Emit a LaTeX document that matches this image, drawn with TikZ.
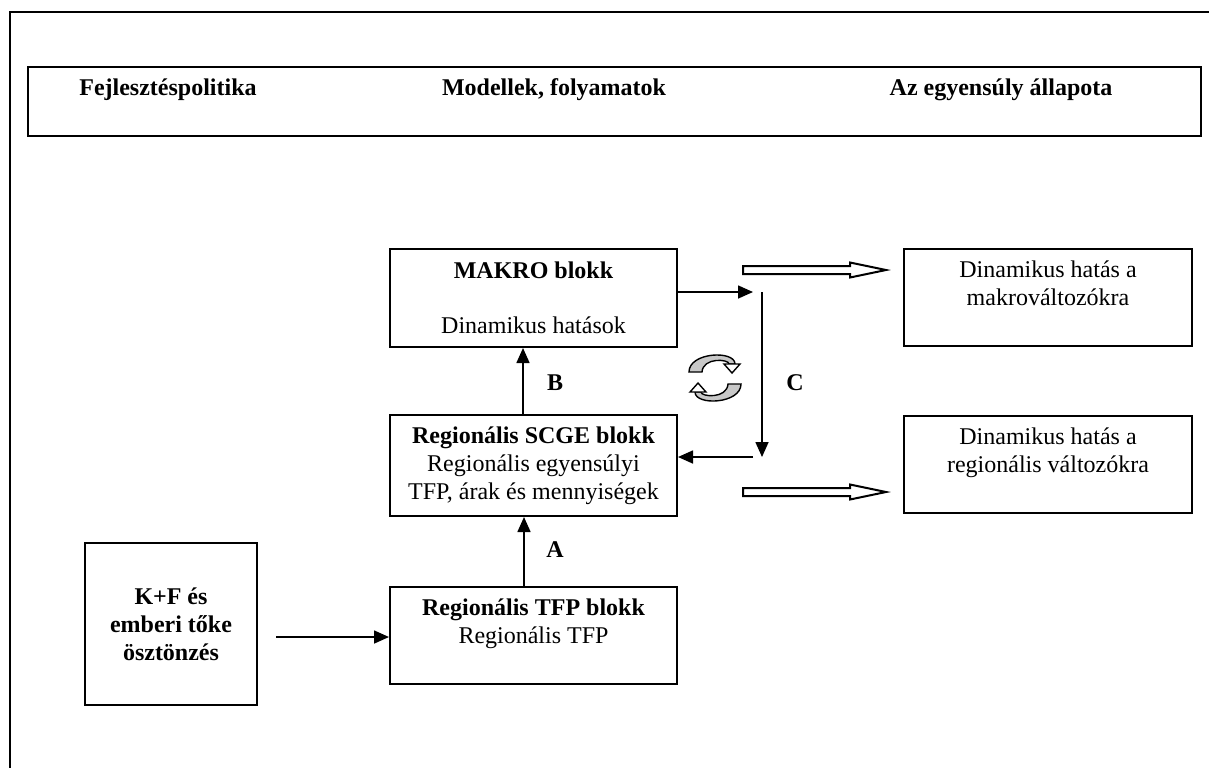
\documentclass[tikz,border=0pt]{standalone}
\usepackage{fontspec}
\setmainfont{Liberation Serif}
\usepackage{tikz}
\usetikzlibrary{arrows.meta,calc}
\definecolor{szurke}{HTML}{C8C8C8}
\tikzset{blokk/.style={
    draw=black,
    line width=1pt,
    align=center,
    inner sep=0pt}}
\tikzset{nyil/.style={
    line width=0.8pt,
    -{Triangle[length=7.5pt,width=6.5pt]}}}
\tikzset{ures/.style={
    draw=black,
    line width=1pt,
    fill=white}}
\tikzset{korbe/.style={
    draw=black,
    line width=0.7pt,
    fill=szurke}}

\begin{document}
\begin{tikzpicture}[x=0.5pt,y=-0.5pt,font=\fontsize{12}{14}\selectfont]
	\useasboundingbox (0,0) rectangle (1209,767);
\draw[line width=1pt] (10,770) -- (10,12) -- (1215,12);

% fejlec
\node[blokk,minimum width=586.5pt,minimum height=34.5pt] (fejlec) at (614.5,101.5) {};
\node (politika) at (168,90) {\textbf{Fejlesztéspolitika}};
\node (modellek) at (554,90) {\textbf{Modellek, folyamatok}};
\node (allapot) at (1001,90) {\textbf{Az egyensúly állapota}};

% blokkok
\node[blokk,minimum width=143.5pt,minimum height=49pt] (makro) at (533.5,298)
  {\textbf{MAKRO blokk}\\[13.5pt]Dinamikus hatások};
\node[blokk,minimum width=143.5pt,minimum height=50.5pt] (scge) at (533.5,465.5)
  {\textbf{Regionális SCGE blokk}\\Regionális egyensúlyi\\TFP, árak és mennyiségek};
\node[blokk,minimum width=143.5pt,minimum height=48.5pt] (tfp) at (533.5,635.5)
  {\textbf{Regionális TFP blokk}\\Regionális TFP\\~};
\node[blokk,minimum width=86pt,minimum height=81pt] (kf) at (171,624)
  {\textbf{K+F és}\\\textbf{emberi tőke}\\\textbf{ösztönzés}};
\node[blokk,minimum width=144pt,minimum height=48.5pt] (makrohatas) at (1048,297.5)
  {Dinamikus hatás a\\makrováltozókra\\~};
\node[blokk,minimum width=144pt,minimum height=48.5pt] (reghatas) at (1048,464.5)
  {Dinamikus hatás a\\regionális változókra\\~};

% nyilak
\coordinate (kfki) at (276,637);
\coordinate (makroki) at (753,292);
\coordinate (cfent) at (762,292);
\coordinate (clent) at (762,457);
\coordinate (vissza) at (753,457);
\draw[nyil] (kfki) -- (kfki -| tfp.west);
\draw[nyil] ([xshift=-4.75pt]tfp.north) -- ([xshift=-4.75pt]scge.south);
\draw[nyil] ([xshift=-5.25pt]scge.north) -- ([xshift=-5.25pt]makro.south);
\draw[nyil] (makroki -| makro.east) -- (makroki);
\draw[nyil] (cfent) -- (clent);
\draw[nyil] (vissza) -- (vissza -| scge.east);

\node (la) at (555,550) {\textbf{A}};
\node (lb) at (555,383) {\textbf{B}};
\node (lc) at (795,383) {\textbf{C}};

% ures nyilak
\foreach \y in {270,492}
  \draw[ures] (743,\y-4) -- (850,\y-4) -- (850,\y-7.5) -- (886,\y)
    -- (850,\y+7.5) -- (850,\y+4) -- (743,\y+4) -- cycle;

% korforgas
\foreach \szog in {0,180} {
  \begin{scope}[rotate around={\szog:(715,378)}]
    \draw[korbe] (689,372) .. controls (689,352) and (735,350) .. (735,364)
      -- (729,364) .. controls (729,359) and (703,357) .. (702,372) -- cycle;
    \draw[korbe,fill=white] (724,364) -- (740,364) -- (732,373) -- cycle;
  \end{scope}
}
\end{tikzpicture}
\end{document}
